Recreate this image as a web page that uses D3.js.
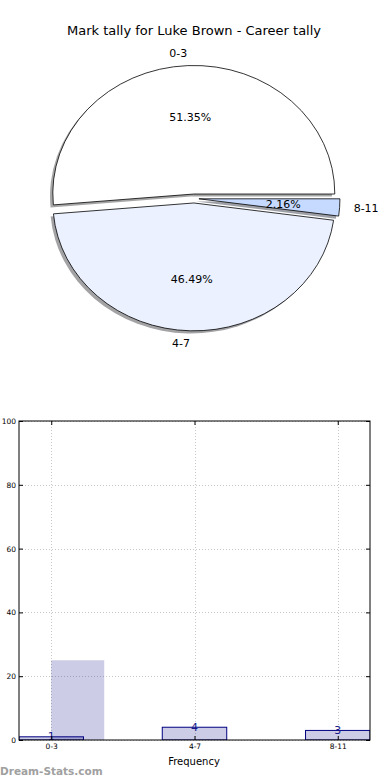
<!DOCTYPE html>
<html>
<head>
<meta charset="utf-8">
<script src="https://cdn.jsdelivr.net/npm/d3@7"></script>
<style>
  body { margin: 0; background: #fff; }
  svg { display: block; font-family: "DejaVu Sans", sans-serif; }
</style>
</head>
<body>
<svg id="chart" width="390" height="780"></svg>
<script>
// pie data
const pie_labels = ["0-3", "4-7", "8-11"];
const pie_counts = [95, 86, 4];
const pie_colors = ["#ffffff", "#ebf1ff", "#c6d9ff"];

// bar data
const bar_categories = ["0-3", "4-7", "8-11"];
const bar_values = [1, 4, 3];
const shade_values = [25, 0, 0];
const y_ticks = [0, 20, 40, 60, 80, 100];

const svg = d3.select("#chart");

////////// PIE //////////

svg.append("text")
    .attr("x", 194).attr("y", 30)
    .attr("text-anchor", "middle").attr("dominant-baseline", "central")
    .style("font-size", "13px").attr("fill", "#000")
    .text("Mark tally for Luke Brown - Career tally");

var cx = 194, cy = 198.5, rx = 141, ry = 128, explode = 0.035;

// matplotlib style: start at 3 o'clock, counter clockwise
let pie = d3.pie().sort(null)
    .startAngle(Math.PI / 2)
    .endAngle(Math.PI / 2 - 2 * Math.PI);
let slices = pie(pie_counts);
let total = d3.sum(pie_counts);
let arc = d3.arc().innerRadius(0).outerRadius(1);

function mid_xy(d, k) {
    let m = (d.startAngle + d.endAngle) / 2;
    return [Math.sin(m) * k, -Math.cos(m) * k];
}

// shadows first
slices.forEach(function(d, i) {
    let off = mid_xy(d, explode);
    let col = d3.color(pie_colors[i]);
    svg.append("path")
        .attr("d", arc(d))
        .attr("transform", "translate(" + (cx + off[0] * rx - 2.8) + "," + (cy + off[1] * ry + 2.6) + ") scale(" + rx + "," + ry + ")")
        .attr("fill", d3.rgb(col.r * 0.3, col.g * 0.3, col.b * 0.3))
        .attr("fill-opacity", 0.5)
        .attr("stroke", "none");
});

slices.forEach(function(d, i) {
    let off = mid_xy(d, explode);
    let px = cx + off[0] * rx, py = cy + off[1] * ry;
    svg.append("path")
        .attr("d", arc(d))
        .attr("transform", "translate(" + px + "," + py + ") scale(" + rx + "," + ry + ")")
        .attr("fill", pie_colors[i])
        .attr("stroke", "#000")
        .attr("stroke-width", 0.8)
        .attr("vector-effect", "non-scaling-stroke")
        .attr("stroke-linejoin", "miter");

    let lp = mid_xy(d, 1.1);
    svg.append("text")
        .attr("x", px + lp[0] * rx).attr("y", py + lp[1] * ry)
        .attr("text-anchor", lp[0] > 0 ? "start" : "end")
        .attr("dominant-baseline", "central")
        .style("font-size", "11px")
        .text(pie_labels[i]);

    let pp = mid_xy(d, 0.6);
    svg.append("text")
        .attr("x", px + pp[0] * rx).attr("y", py + pp[1] * ry)
        .attr("text-anchor", "middle")
        .attr("dominant-baseline", "central")
        .style("font-size", "11px")
        .text((pie_counts[i] / total * 100).toFixed(2) + "%");
});

////////// BARS //////////

var plot_left = 19, plot_right = 370, plot_top = 421, plot_bottom = 740;
var bar_w = 0.45;

let x = d3.scaleLinear().domain([-bar_w / 2, bar_categories.length - 1 + bar_w / 2]).range([plot_left, plot_right]);
let y = d3.scaleLinear().domain([0, 100]).range([plot_bottom, plot_top]);

let plot = svg.append("g");

svg.append("clipPath").attr("id", "clip")
    .append("rect").attr("x", plot_left).attr("y", plot_top)
    .attr("width", plot_right - plot_left).attr("height", plot_bottom - plot_top);

// grid
plot.append("g").selectAll("line").data(y_ticks).enter().append("line")
    .attr("x1", plot_left).attr("x2", plot_right)
    .attr("y1", d => Math.round(y(d)) + 0.5).attr("y2", d => Math.round(y(d)) + 0.5)
    .attr("stroke", "#c8c8c8").attr("stroke-width", 1).attr("stroke-dasharray", "1,2");
plot.append("g").selectAll("line").data(bar_categories).enter().append("line")
    .attr("x1", (d, i) => Math.round(x(i)) + 0.5).attr("x2", (d, i) => Math.round(x(i)) + 0.5)
    .attr("y1", plot_top).attr("y2", plot_bottom)
    .attr("stroke", "#c8c8c8").attr("stroke-width", 1).attr("stroke-dasharray", "1,2");

let bars = plot.append("g").attr("clip-path", "url(#clip)");

// shaded bars, left edge on the tick
bars.selectAll("rect.shade").data(shade_values).enter().append("rect")
    .attr("class", "shade")
    .attr("x", (d, i) => x(i))
    .attr("width", x(0.37) - x(0))
    .attr("y", d => y(d))
    .attr("height", d => y(0) - y(d))
    .attr("fill", "#000080").attr("fill-opacity", 0.2);

// outlined bars
bars.selectAll("rect.main").data(bar_values).enter().append("rect")
    .attr("class", "main")
    .attr("x", (d, i) => x(i - bar_w / 2))
    .attr("width", x(bar_w) - x(0))
    .attr("y", d => y(d))
    .attr("height", d => y(0) - y(d))
    .attr("fill", "#000080").attr("fill-opacity", 0.2)
    .attr("stroke", "#000080").attr("stroke-width", 1);

// value labels
plot.append("g").selectAll("text").data(bar_values).enter().append("text")
    .attr("x", (d, i) => x(i)).attr("y", d => y(d))
    .attr("text-anchor", "middle").attr("dominant-baseline", "central")
    .style("font-size", "11px").attr("fill", "#1a1a8c")
    .text(d => d);

// frame
svg.append("rect")
    .attr("x", plot_left).attr("y", plot_top)
    .attr("width", plot_right - plot_left).attr("height", plot_bottom - plot_top)
    .attr("fill", "none").attr("stroke", "#000").attr("stroke-width", 1);

// y axis, ticks inward on both sides
let y_axis = d3.axisLeft(y).tickValues(y_ticks).tickSize(-4).tickPadding(3);
let gy = svg.append("g").attr("transform", "translate(" + plot_left + ",0)").call(y_axis);
gy.select(".domain").remove();
gy.selectAll("text").style("font-size", "7.5px").attr("fill", "#000").attr("font-family", "DejaVu Sans");
let gy2 = svg.append("g").attr("transform", "translate(" + plot_right + ",0)")
    .call(d3.axisRight(y).tickValues(y_ticks).tickSize(-4).tickFormat(""));
gy2.select(".domain").remove();

// x axis
let x_axis = d3.axisBottom(x).tickValues(d3.range(bar_categories.length))
    .tickFormat(i => bar_categories[i]).tickSize(-4).tickPadding(4);
let gx = svg.append("g").attr("transform", "translate(0," + plot_bottom + ")").call(x_axis);
gx.select(".domain").remove();
gx.selectAll("text").style("font-size", "7.5px").attr("fill", "#000").attr("font-family", "DejaVu Sans");
let gx2 = svg.append("g").attr("transform", "translate(0," + plot_top + ")")
    .call(d3.axisTop(x).tickValues(d3.range(bar_categories.length)).tickSize(-4).tickFormat(""));
gx2.select(".domain").remove();

svg.append("text")
    .attr("x", 194).attr("y", 761)
    .attr("text-anchor", "middle").attr("dominant-baseline", "central")
    .style("font-size", "10px")
    .text("Frequency");

svg.append("text")
    .attr("x", 0).attr("y", 771)
    .attr("dominant-baseline", "central")
    .style("font-size", "10.5px").style("font-weight", "bold")
    .attr("fill", "#a0a0a0")
    .text("Dream-Stats.com");
</script>
</body>
</html>
